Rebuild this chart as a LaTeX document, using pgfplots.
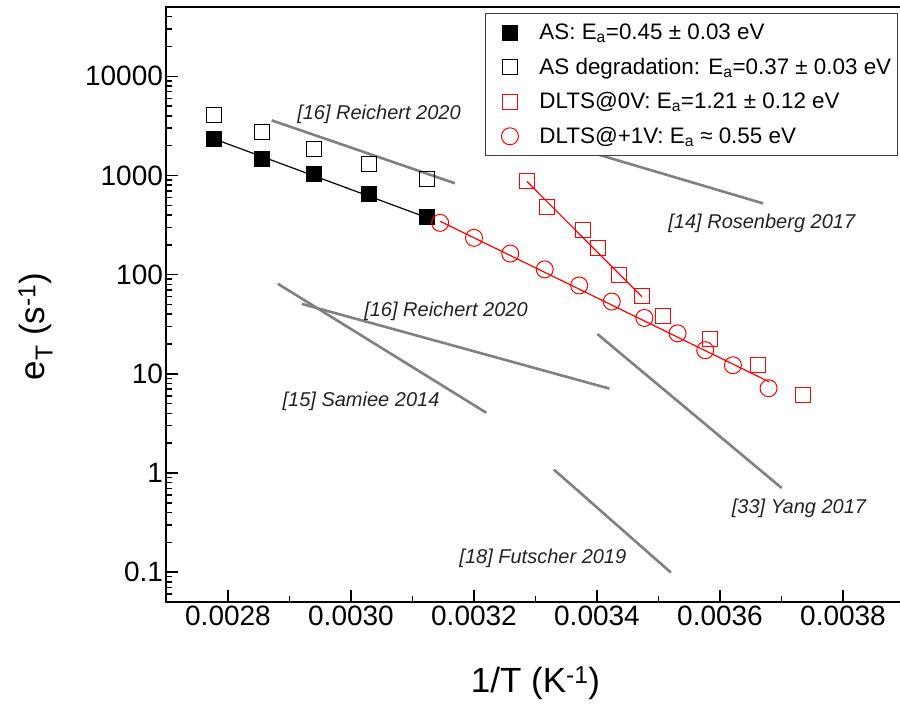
\documentclass[border=0pt]{standalone}
\usepackage{fontspec}
\setmainfont{Liberation Sans}
\usepackage{pgfplots}
\pgfplotsset{compat=1.18}
\definecolor{refgray}{RGB}{128,128,128}
\definecolor{txtgray}{RGB}{35,35,35}

\begin{document}
\begin{tikzpicture}
\begin{axis}[
  at={(0,0)}, anchor=south west, scale only axis,
  width=738pt, height=595pt,
  xmin=0.0027, xmax=0.0039,
  ymode=log, ymin=0.05, ymax=50000,
  scaled x ticks=false,
  axis line style={line width=2pt},
  xtick={0.0028,0.0030,0.0032,0.0034,0.0036,0.0038},
  xticklabels={0.0028,0.0030,0.0032,0.0034,0.0036,0.0038},
  minor xtick={0.0029,0.0031,0.0033,0.0035,0.0037},
  ytick={0.1,1,10,100,1000,10000},
  yticklabels={0.1,1,10,100,1000,10000},
  minor ytick={0.06,0.07,0.08,0.09,0.2,0.3,0.4,0.5,0.6,0.7,0.8,0.9,2,3,4,5,6,7,8,9,20,30,40,50,60,70,80,90,200,300,400,500,600,700,800,900,2000,3000,4000,5000,6000,7000,8000,9000,20000,30000,40000},
  tick align=inside, xtick pos=bottom, ytick pos=left,
  major tick length=12pt, minor tick length=6pt,
  tick style={line width=1.5pt, black},
  ticklabel style={font=\fontsize{28}{32}\selectfont},
  xlabel={1/T (K\textsuperscript{-1})},
  ylabel={e\textsubscript{T} (s\textsuperscript{-1})},
  xlabel style={font=\fontsize{35}{40}\selectfont, at={(axis description cs:0.5,-0.136)}, anchor=center},
  ylabel style={font=\fontsize{35}{40}\selectfont, at={(axis description cs:-0.1775,0.463)}, anchor=center},
  legend image code/.code={%
    \path (0pt,0pt) (47pt,0pt);
    \draw[mark repeat=2,mark phase=2,#1] plot coordinates {(0pt,0pt) (21pt,0pt) (42pt,0pt)};},
  legend style={at={(rel axis cs:0.9908,0.9894)}, anchor=north east,
    draw=black!75, line width=1pt, fill=white,
    font=\fontsize{22.4}{26}\selectfont,
    nodes={text height=18pt, text depth=4pt, inner sep=3pt},
    row sep=6.5pt, inner xsep=3pt, inner ysep=5pt},
  legend cell align=left,
]
% reference lines (gray)
\addplot[refgray, line width=2.6pt, forget plot] coordinates {(0.002871,3597) (0.003169,834)};
\addplot[refgray, line width=2.6pt, forget plot] coordinates {(0.003275,2780) (0.003670,523)};
\addplot[refgray, line width=2.6pt, forget plot] coordinates {(0.002920,50.7) (0.003420,7.1)};
\addplot[refgray, line width=2.6pt, forget plot] coordinates {(0.002881,80.9) (0.003220,4.05)};
\addplot[refgray, line width=2.6pt, forget plot] coordinates {(0.0034005,25.2) (0.0037003,0.705)};
\addplot[refgray, line width=2.6pt, forget plot] coordinates {(0.003330,1.08) (0.003520,0.0993)};
% fit lines
\addplot[black, line width=1.2pt, forget plot] coordinates {(0.002778,2330) (0.003124,375)};
\addplot[red, line width=1.2pt, forget plot] coordinates {(0.003286,870) (0.003473,60)};
\addplot[red, line width=1.2pt, forget plot] coordinates {(0.003145,345) (0.003680,8.3)};
% data
\addplot[only marks, mark=square*, mark size=7.5pt, mark options={line width=1pt, draw=black, fill=black}] coordinates {
(0.002778,2328) (0.002856,1469) (0.002940,1028) (0.003029,645) (0.003124,378)};
\addlegendentry{AS: E\textsubscript{a}=0.45 ± 0.03 eV}
\addplot[only marks, mark=square, mark size=7.5pt, mark options={line width=1pt, draw=black}] coordinates {
(0.002778,4100) (0.002856,2760) (0.002940,1841) (0.003029,1298) (0.003124,914)};
\addlegendentry{AS degradation: E\textsubscript{a}=0.37 ± 0.03 eV}
\addplot[only marks, mark=square, mark size=7.5pt, mark options={line width=1pt, draw=red}] coordinates {
(0.003286,880) (0.003319,476) (0.003378,285) (0.003401,186) (0.003436,99.8) (0.003473,61.5) (0.003508,38.6) (0.003584,22.4) (0.003662,12.2) (0.003735,6.07)};
\addlegendentry{DLTS@0V: E\textsubscript{a}=1.21 ± 0.12 eV}
\addplot[only marks, mark=o, mark size=8.5pt, mark options={line width=1pt, draw=red}] coordinates {
(0.003145,333) (0.003200,235) (0.003259,163) (0.003315,113) (0.003371,77.8) (0.003424,53.5) (0.003477,36.6) (0.003531,25.6) (0.003576,17.3) (0.003621,12.2) (0.003679,7.15)};
\addlegendentry{DLTS@+1V: E\textsubscript{a} ≈ 0.55 eV}
% labels
\begin{scope}[every node/.style={font=\fontsize{20}{24}\selectfont\itshape, text=txtgray, anchor=center}]
\node at (axis cs:0.0030455,4100) {[16] Reichert 2020};
\node at (axis cs:0.003668,328) {[14] Rosenberg 2017};
\node at (axis cs:0.0031545,43.1) {[16] Reichert 2020};
\node at (axis cs:0.0030163,5.31) {[15] Samiee 2014};
\node at (axis cs:0.0037285,0.442) {[33] Yang 2017};
\node at (axis cs:0.003312,0.1377) {[18] Futscher 2019};
\end{scope}
\end{axis}
\pgfresetboundingbox
\path[use as bounding box] (-166.5pt,-106pt) rectangle (733.5pt,602pt);
\end{tikzpicture}
\end{document}
